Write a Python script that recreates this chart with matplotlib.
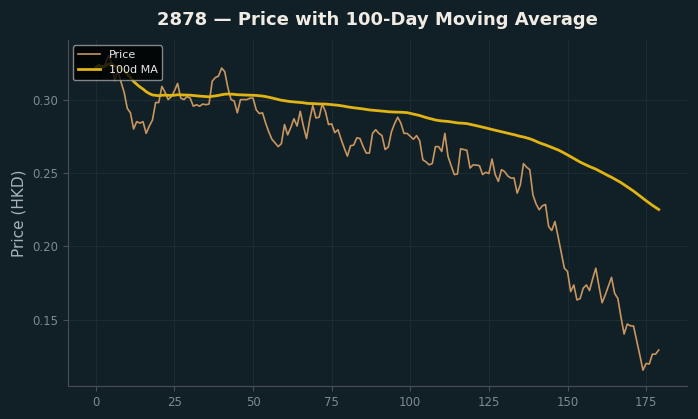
import numpy as np
import pandas as pd
import matplotlib
matplotlib.use("Agg")
import matplotlib.pyplot as plt

# Daily closing prices (HKD)
price = [
    0.322, 0.324, 0.321, 0.324, 0.330, 0.325, 0.313, 0.320, 0.312, 0.305,
    0.294, 0.291, 0.280, 0.285, 0.284, 0.285, 0.277, 0.282, 0.286, 0.298,
    0.298, 0.309, 0.305, 0.300, 0.302, 0.306, 0.311, 0.301, 0.300, 0.302,
    0.301, 0.2955, 0.2965, 0.2955, 0.297, 0.2965, 0.297, 0.3125, 0.315, 0.316,
    0.3215, 0.319, 0.308, 0.300, 0.299, 0.291, 0.300, 0.300, 0.300, 0.301,
    0.301, 0.293, 0.2905, 0.291, 0.284, 0.278, 0.273, 0.2705, 0.268, 0.270,
    0.283, 0.276, 0.281, 0.287, 0.282, 0.292, 0.282, 0.2735, 0.286, 0.296,
    0.2875, 0.288, 0.297, 0.292, 0.283, 0.2835, 0.2775, 0.2795, 0.273, 0.267,
    0.2615, 0.2686, 0.269, 0.274, 0.2735, 0.268, 0.2636, 0.2636, 0.277, 0.2795,
    0.277, 0.2755, 0.266, 0.2677, 0.278, 0.2836, 0.288, 0.284, 0.277, 0.277,
    0.275, 0.273, 0.2755, 0.272, 0.259, 0.2576, 0.2556, 0.2565, 0.268, 0.268,
    0.2647, 0.277, 0.2613, 0.255, 0.249, 0.2493, 0.2665, 0.266, 0.2655, 0.2534,
    0.2556, 0.2554, 0.255, 0.249, 0.2505, 0.2497, 0.2595, 0.249, 0.2443, 0.2523,
    0.251, 0.248, 0.2466, 0.2466, 0.2363, 0.242, 0.2564, 0.254, 0.2523, 0.2352,
    0.229, 0.225, 0.2277, 0.2286, 0.2136, 0.2109, 0.217, 0.2068, 0.196, 0.1852,
    0.183, 0.1693, 0.1738, 0.1636, 0.1645, 0.1716, 0.1738, 0.170, 0.178, 0.1852,
    0.173, 0.1617, 0.167, 0.173, 0.179, 0.168, 0.1647, 0.152, 0.1404, 0.1472,
    0.146, 0.1458, 0.136, 0.126, 0.1158, 0.1204, 0.120, 0.1267, 0.1267, 0.1295,
]
window = 100

bg = "#111f26"
s = pd.Series(price)
ma = s.rolling(window, min_periods=1).mean()
x = np.arange(len(price))

fig = plt.figure(figsize=(6.98, 4.19), dpi=100, facecolor=bg)
ax = fig.add_axes([0.097, 0.079, 0.887, 0.826], facecolor=bg)

ax.plot(x, s, color="#c8965f", lw=1.2, label="Price")
ax.plot(x, ma, color="#e0b414", lw=2.0, label="100d MA")

ax.grid(True, color="#1c2a31", lw=0.8)
ax.set_axisbelow(True)
for side in ["top", "right"]:
    ax.spines[side].set_visible(False)
for side in ["left", "bottom"]:
    ax.spines[side].set_color("#4a4f52")
ax.tick_params(colors="#4a4f52", labelcolor="#7f8a8f", labelsize=8.5)
ax.set_xticks(np.arange(0, 176, 25))
ax.set_ylabel("Price (HKD)", color="#a9b2b6", fontsize=11)
ax.set_title("2878 — Price with 100-Day Moving Average", color="#f0ece4",
             fontsize=13, fontweight="bold", pad=11)

leg = ax.legend(loc="upper left", fontsize=8, facecolor="#000000",
                edgecolor="#a0a4a6", framealpha=0.8)
for t in leg.get_texts():
    t.set_color("#e8e8e8")

fig.savefig("out.png", dpi=100, facecolor=bg)
